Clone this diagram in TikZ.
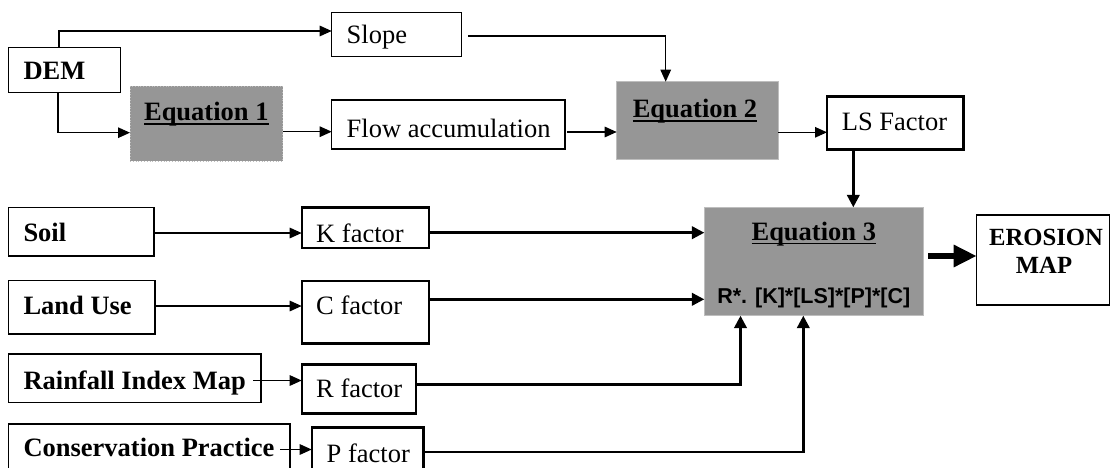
\documentclass[tikz,border=0pt]{standalone}
\usepackage{fontspec}
\setmainfont{Liberation Serif}
\newfontfamily\formulafont{Liberation Sans}
\usetikzlibrary{arrows.meta}
\definecolor{eqgray}{RGB}{150,150,150}
\definecolor{eqedge}{RGB}{190,190,190}
% bold word with a Word-style underline that crosses the descenders
\newcommand{\ulbold}[1]{\setbox0\hbox{\bfseries #1}\rlap{\rule[-4.2pt]{\wd0}{1.4pt}}\box0}

\begin{document}
\begin{tikzpicture}[x=1pt,y=-1pt,
  box/.style={draw, rectangle, line width=1.2pt, inner sep=0pt, outer sep=0pt, anchor=north west},
  facbox/.style={box, line width=2.4pt},
  eqbox/.style={rectangle, inner sep=0pt, outer sep=0pt, anchor=north west, fill=eqgray, draw=eqedge, line width=0.8pt},
  lbl/.style={inner sep=0pt, anchor=base west, font=\fontsize{26.5}{30}\selectfont},
  eqlbl/.style={inner sep=0pt, anchor=base, font=\fontsize{26.5}{30}\selectfont},
  thinarr/.style={line width=1.3pt, -{Triangle[length=12pt,width=10.5pt]}},
  thickarr/.style={line width=2.7pt, -{Triangle[length=12.5pt,width=12.5pt]}},
  bigarr/.style={line width=6pt, -{Triangle[length=23pt,width=21pt]}}
]
\useasboundingbox (0,0) rectangle (1110,468);
\fill[white] (0,0) rectangle (1110,468);
\clip (0,0) rectangle (1110,468);

% ---- terrain branch ----
\node[box, minimum width=112.4pt, minimum height=44.6pt] (dem) at (8.3,47.7) {};
\node[lbl] (demT) at (23.3,80) {\textbf{DEM}};

\node[box, minimum width=130pt, minimum height=44pt] (slope) at (331.7,12.7) {};
\node[lbl] (slopeT) at (346.5,44) {Slope};

\node[eqbox, dotted, minimum width=152.7pt, minimum height=75.3pt] (eq1) at (130,86) {};
\node[eqlbl] (eq1T) at (206.3,120.5) {\ulbold{Equation 1}};

\node[box, minimum width=233.3pt, minimum height=49pt] (flow) at (331.7,100) {};
\node[lbl] (flowT) at (346.5,137) {Flow accumulation};

\node[eqbox, minimum width=161.6pt, minimum height=77.6pt] (eq2) at (616.7,81.7) {};
\node[eqlbl] (eq2T) at (695,117.5) {\ulbold{Equation 2}};

\node[facbox, minimum width=136.3pt, minimum height=52.6pt] (ls) at (827,96.7) {};
\node[lbl] (lsT) at (841.7,130) {LS Factor};

% ---- input layers ----
\node[box, minimum width=145.7pt, minimum height=48.7pt] (soil) at (8.3,207.3) {};
\node[lbl] (soilT) at (23.3,241) {\textbf{Soil}};

\node[box, minimum width=146.7pt, minimum height=53.3pt] (land) at (8.3,280.7) {};
\node[lbl] (landT) at (23.3,314.5) {\textbf{Land Use}};

\node[box, minimum width=252.7pt, minimum height=48.7pt] (rain) at (8.3,354) {};
\node[lbl] (rainT) at (23.3,389.5) {\textbf{Rainfall Index Map}};

\node[box, minimum width=281.7pt, minimum height=60pt] (cons) at (8.3,424) {};
\node[lbl] (consT) at (23.3,456.5) {\textbf{Conservation Practice}};

% ---- factor layers ----
\begin{scope}
  \clip (301.7,207.3) rectangle (429,241.8);
  \node[lbl] (kT) at (316,242.5) {K factor};
\end{scope}
\node[facbox, minimum width=127.3pt, minimum height=40.7pt] (kf) at (301.7,207.3) {};

\node[facbox, minimum width=127.3pt, minimum height=62.6pt] (cf) at (301.7,280.7) {};
\node[lbl] (cT) at (316,314) {C factor};

\node[facbox, minimum width=114.3pt, minimum height=49pt] (rf) at (301.7,364.3) {};
\node[lbl] (rT) at (316,397.5) {R factor};

\node[facbox, minimum width=111.6pt, minimum height=56.7pt] (pf) at (311.7,427.3) {};
\node[lbl] (pT) at (326.5,462.5) {P factor};

% ---- soil loss equation and result ----
\node[eqbox, minimum width=219pt, minimum height=108.4pt] (eq3) at (704.3,207.3) {};
\node[eqlbl] (eq3T) at (813.8,240) {\ulbold{Equation 3}};
\node[inner sep=0pt, anchor=base, font=\fontsize{21.5}{24}\selectfont] (eq3F) at (813.8,303.3)
  {\formulafont\bfseries R*. [K]*[LS]*[P]*[C]};

\node[box, minimum width=132.8pt, minimum height=90pt] (ero) at (976.7,215) {};
\node[inner sep=0pt, anchor=base, font=\fontsize{24.7}{28}\selectfont] (eroT1) at (1046,245) {\textbf{EROSION}};
\node[inner sep=0pt, anchor=base, font=\fontsize{24.7}{28}\selectfont] (eroT2) at (1044,273.3) {\textbf{MAP}};

% ---- connectors ----
\coordinate (slopeOut) at (468,36);
\coordinate (flowOut) at (567,132);
\coordinate (rainOut) at (253.3,380.5);
\coordinate (consOut) at (280,449.5);
\coordinate (eq3Out) at (928.3,256);

\draw[thinarr] (dem.north -| 59,0) |- (slope.west |- 0,31);
\draw[thinarr] (dem.south -| 58,0) |- (eq1.west |- 0,132.7);
\draw[thinarr] (eq1.east |- 0,131.7) -- (flow.west |- 0,131.7);
\draw[thinarr] (slopeOut) -| (eq2.north -| 665.7,0);
\draw[thinarr] (flowOut) -- (eq2.west |- flowOut);
\draw[thinarr] (eq2.east |- 0,132.3) -- (ls.west |- 0,132.3);
\draw[thickarr] (ls.south -| 853.3,0) -- (eq3.north -| 853.3,0);

\draw[thinarr] (soil.east |- 0,233) -- (kf.west |- 0,233);
\draw[thinarr] (land.east |- 0,306) -- (cf.west |- 0,306);
\draw[thinarr] (rainOut) -- (rf.west |- rainOut);
\draw[thinarr] (consOut) -- (pf.west |- consOut);

\draw[thickarr] (kf.east |- 0,232.7) -- (eq3.west |- 0,232.7);
\draw[thickarr] (cf.east |- 0,299.3) -- (eq3.west |- 0,299.3);
\draw[thickarr] (rf.east |- 0,384.5) -| (eq3.south -| 740.5,0);
\draw[thickarr] (pf.east |- 0,452) -| (eq3.south -| 803.3,0);

\draw[bigarr] (eq3Out) -- (ero.west |- eq3Out);
\end{tikzpicture}
\end{document}
